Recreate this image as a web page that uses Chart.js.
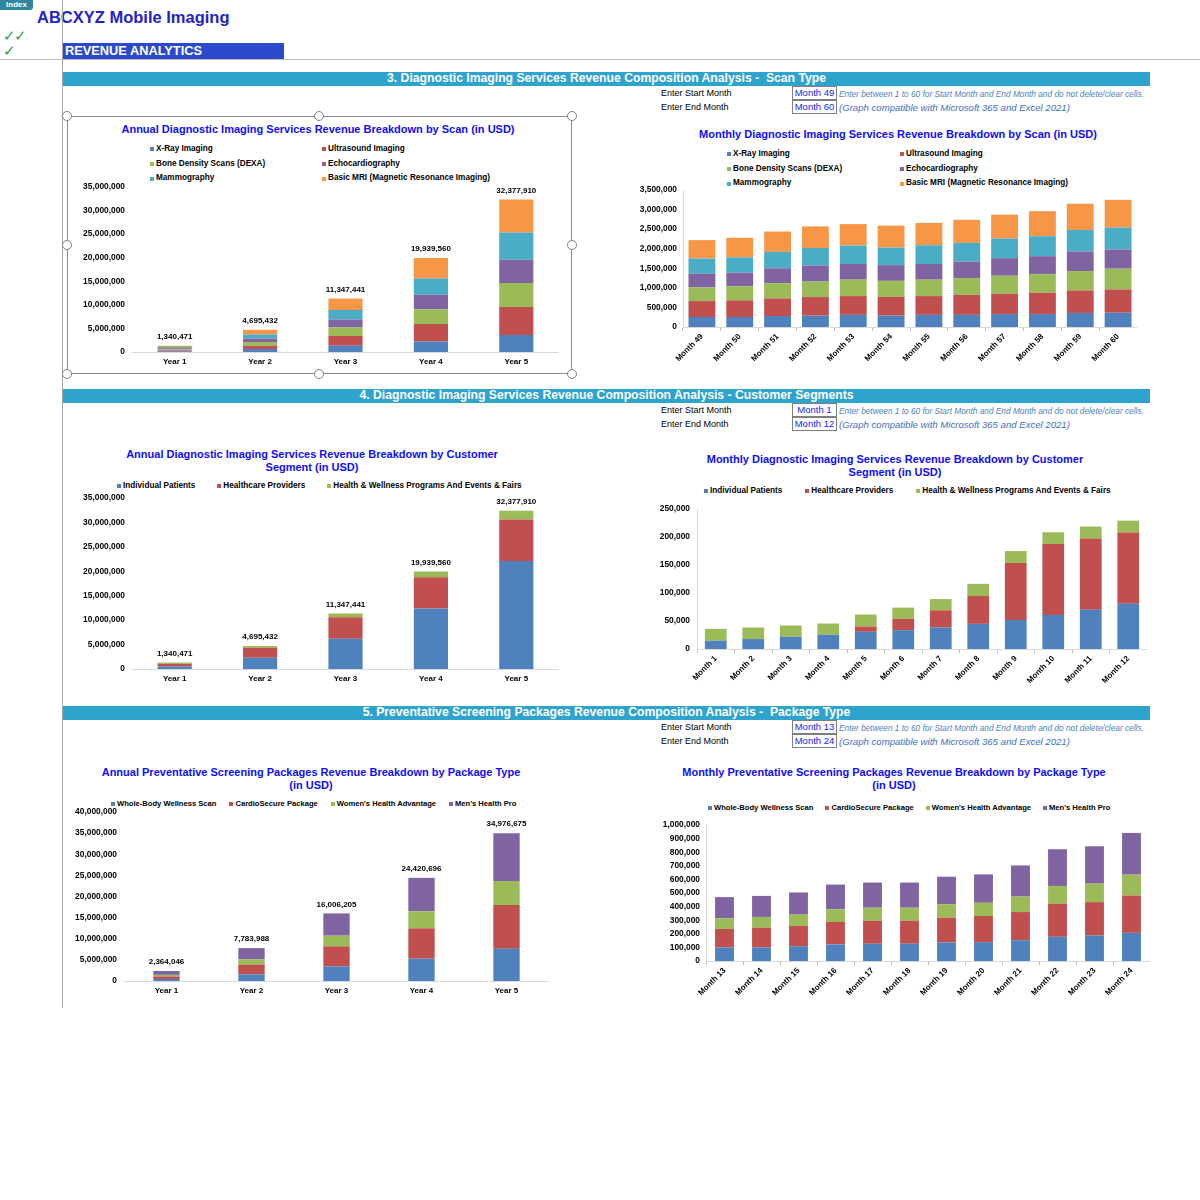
<!DOCTYPE html>
<html>
<head>
<meta charset="utf-8">
<script src="https://cdn.jsdelivr.net/npm/chart.js@4.4.1/dist/chart.umd.min.js"></script>
<style>
body{margin:0;width:1200px;height:1200px;background:#fff;position:relative;overflow:hidden;font-family:"Liberation Sans",Arial,sans-serif;color:#000}
.abs{position:absolute;white-space:nowrap}
.sec{position:absolute;left:63px;width:1087px;height:14px;background:#2EA3CE;color:#fff;font-weight:bold;font-size:12.2px;line-height:13px;text-align:center;white-space:nowrap}
.lbl{position:absolute;left:661px;font-size:9px}
.box{position:absolute;left:792px;width:43px;height:12px;border:1px solid #7f7f7f;color:#1a1aff;font-size:9.5px;line-height:12px;text-align:center;background:#fff}
.note{position:absolute;left:839px;color:#4f81bd;font-style:italic;white-space:nowrap}
.title{position:absolute;color:#0d0dff;font-weight:bold;font-size:11px;line-height:13px;text-align:center;white-space:nowrap;transform:translate(-50%,-50%)}
.leg{position:absolute;font-weight:bold;font-size:8.2px;line-height:14.7px}
.leg .it{display:flex;align-items:center;white-space:nowrap}
.leg .sq{width:4px;height:4px;margin-right:2px;flex:none}
canvas{position:absolute}
.h{position:absolute;width:8px;height:8px;border:1.3px solid #808080;border-radius:50%;background:#fff;transform:translate(-50%,-50%)}
</style>
</head>
<body>

<div class="abs" style="left:0;top:0;width:33px;height:10px;background:#31859C;color:#fff;font-weight:bold;font-size:8px;line-height:10px;text-align:center;border-bottom-right-radius:3px">Index</div>
<div class="abs" style="left:37px;top:8px;font-size:16.5px;font-weight:bold;color:#2323c4">ABCXYZ Mobile Imaging</div>
<div class="abs" style="left:3px;top:27px;font-size:15px;color:#2e9e4f;letter-spacing:-2px">✓✓</div>
<div class="abs" style="left:3px;top:42px;font-size:15px;color:#2e9e4f">✓</div>
<div class="abs" style="left:0;top:59px;width:1200px;height:1px;background:#bfbfbf"></div>
<div class="abs" style="left:62px;top:0;width:1px;height:1008px;background:#a6a6a6"></div>
<div class="abs" style="left:63px;top:43px;width:221px;height:16px;background:#2B4ACB;color:#fff;font-weight:bold;font-size:12.8px;line-height:16px;padding-left:2px;box-sizing:border-box">REVENUE ANALYTICS</div>

<div class="sec" style="top:72px">3. Diagnostic Imaging Services Revenue Composition Analysis -&nbsp; Scan Type</div>
<div class="sec" style="top:389px">4. Diagnostic Imaging Services Revenue Composition Analysis - Customer Segments</div>
<div class="sec" style="top:706px">5. Preventative Screening Packages Revenue Composition Analysis -&nbsp; Package Type</div>

<div class="lbl" style="top:88px">Enter Start Month</div>
<div class="lbl" style="top:102px">Enter End Month</div>
<div class="box" style="top:86px">Month 49</div>
<div class="box" style="top:100px">Month 60</div>
<div class="note" style="top:89px;font-size:8.3px">Enter between 1 to 60 for Start Month and End Month and do not delete/clear cells.</div>
<div class="note" style="top:102px;font-size:9.6px;color:#3a6fc4">(Graph compatible with Microsoft 365 and Excel 2021)</div>

<div class="lbl" style="top:405px">Enter Start Month</div>
<div class="lbl" style="top:419px">Enter End Month</div>
<div class="box" style="top:403px">Month 1</div>
<div class="box" style="top:417px">Month 12</div>
<div class="note" style="top:406px;font-size:8.3px">Enter between 1 to 60 for Start Month and End Month and do not delete/clear cells.</div>
<div class="note" style="top:419px;font-size:9.6px;color:#3a6fc4">(Graph compatible with Microsoft 365 and Excel 2021)</div>

<div class="lbl" style="top:722px">Enter Start Month</div>
<div class="lbl" style="top:736px">Enter End Month</div>
<div class="box" style="top:720px">Month 13</div>
<div class="box" style="top:734px">Month 24</div>
<div class="note" style="top:723px;font-size:8.3px">Enter between 1 to 60 for Start Month and End Month and do not delete/clear cells.</div>
<div class="note" style="top:736px;font-size:9.6px;color:#3a6fc4">(Graph compatible with Microsoft 365 and Excel 2021)</div>

<!-- selection frame round the first chart -->
<div class="abs" style="left:67px;top:116px;width:505px;height:258px;border:1.3px solid #8c8c8c;box-sizing:border-box"></div>
<div class="h" style="left:67px;top:116px"></div><div class="h" style="left:319px;top:116px"></div><div class="h" style="left:572px;top:116px"></div>
<div class="h" style="left:67px;top:245px"></div><div class="h" style="left:572px;top:245px"></div>
<div class="h" style="left:67px;top:374px"></div><div class="h" style="left:319px;top:374px"></div><div class="h" style="left:572px;top:374px"></div>

<div class="title" style="left:318px;top:129px">Annual Diagnostic Imaging Services Revenue Breakdown by Scan (in USD)</div>
<div class="title" style="left:898px;top:134px">Monthly Diagnostic Imaging Services Revenue Breakdown by Scan (in USD)</div>
<div class="title" style="left:312px;top:461px">Annual Diagnostic Imaging Services Revenue Breakdown by Customer<br>Segment (in USD)</div>
<div class="title" style="left:895px;top:466px">Monthly Diagnostic Imaging Services Revenue Breakdown by Customer<br>Segment (in USD)</div>
<div class="title" style="left:311px;top:779px">Annual Preventative Screening Packages Revenue Breakdown by Package Type<br>(in USD)</div>
<div class="title" style="left:894px;top:779px">Monthly Preventative Screening Packages Revenue Breakdown by Package Type<br>(in USD)</div>

<div id="leg1" class="leg" style="left:150px;top:142px;display:grid;grid-template-columns:172px auto"></div>
<div id="leg2" class="leg" style="left:727px;top:147px;display:grid;grid-template-columns:173px auto"></div>
<div id="leg3" class="leg" style="left:117px;top:479px;display:flex;gap:22px"></div>
<div id="leg4" class="leg" style="left:704px;top:484px;display:flex;gap:23px"></div>
<div id="leg5" class="leg" style="left:111px;top:797px;display:flex;gap:13px;font-size:7.6px"></div>
<div id="leg6" class="leg" style="left:708px;top:801px;display:flex;gap:12px;font-size:7.6px"></div>

<canvas id="c1" width="489" height="199" style="left:70px;top:175px"></canvas>
<canvas id="c2" width="516" height="198" style="left:621px;top:179px"></canvas>
<canvas id="c3" width="489" height="205" style="left:70px;top:486px"></canvas>
<canvas id="c4" width="512" height="202" style="left:635px;top:497px"></canvas>
<canvas id="c5" width="487" height="203" style="left:62px;top:800px"></canvas>
<canvas id="c6" width="506" height="197" style="left:644px;top:814px"></canvas>

<script>
// categories
const years = ['Year 1', 'Year 2', 'Year 3', 'Year 4', 'Year 5'];
const months49to60 = ['Month 49', 'Month 50', 'Month 51', 'Month 52', 'Month 53', 'Month 54', 'Month 55', 'Month 56', 'Month 57', 'Month 58', 'Month 59', 'Month 60'];
const months1to12 = ['Month 1', 'Month 2', 'Month 3', 'Month 4', 'Month 5', 'Month 6', 'Month 7', 'Month 8', 'Month 9', 'Month 10', 'Month 11', 'Month 12'];
const months13to24 = ['Month 13', 'Month 14', 'Month 15', 'Month 16', 'Month 17', 'Month 18', 'Month 19', 'Month 20', 'Month 21', 'Month 22', 'Month 23', 'Month 24'];

const scanNames = ['X-Ray Imaging', 'Ultrasound Imaging', 'Bone Density Scans (DEXA)', 'Echocardiography', 'Mammography', 'Basic MRI (Magnetic Resonance Imaging)'];
const segmentNames = ['Individual Patients', 'Healthcare Providers', 'Health & Wellness Programs And Events & Fairs'];
const packageNames = ['Whole-Body Wellness Scan', 'CardioSecure Package', "Women's Health Advantage", "Men's Health Pro"];

// annual by scan
const yearXray = [180000, 630000, 1330000, 2240000, 3600000];
const yearUltrasound = [200000, 700000, 2040000, 3720000, 5950000];
const yearDexa = [220000, 770000, 1820000, 3090000, 5100000];
const yearEcho = [220000, 780000, 1680000, 3080000, 4900000];
const yearMammo = [240000, 840000, 2040000, 3440000, 5800000];
const yearMri = [280471, 975432, 2437441, 4369560, 7027910];

// monthly by scan, months 49 - 60
const monXray = [255000, 255000, 280000, 290000, 310000, 290000, 310000, 310000, 330000, 330000, 360000, 365000];
const monUltrasound = [408000, 425000, 450000, 475000, 480000, 480000, 480000, 510000, 520000, 545000, 575000, 595000];
const monDexa = [347000, 360000, 390000, 395000, 420000, 410000, 420000, 430000, 460000, 475000, 495000, 530000];
const monEcho = [350000, 350000, 380000, 410000, 400000, 400000, 400000, 420000, 450000, 460000, 500000, 490000];
const monMammo = [390000, 390000, 420000, 450000, 470000, 450000, 480000, 480000, 500000, 510000, 550000, 560000];
const monMri = [470000, 500000, 520000, 550000, 550000, 560000, 570000, 590000, 610000, 640000, 670000, 710000];

// annual by customer segment
const yearIndividual = [492000, 2300000, 6170000, 12400000, 22100000];
const yearProviders = [594000, 2040000, 4410000, 6400000, 8500000];
const yearWellness = [254471, 355432, 767441, 1139560, 1777910];

// monthly by customer segment, months 1 - 12
const monIndividual = [14800, 17700, 21900, 25400, 30700, 33700, 38400, 44900, 52000, 60900, 70300, 81000];
const monProviders = [0, 0, 0, 0, 9500, 20100, 30700, 49700, 101700, 126500, 127100, 127000];
const monWellness = [21200, 20700, 20100, 20100, 21300, 20100, 20100, 21800, 21300, 21200, 21300, 21300];

// annual by package
const yearWholeBody = [470000, 1580000, 3470000, 5290000, 7650000];
const yearCardio = [600000, 2290000, 4730000, 7180000, 10340000];
const yearWomens = [380000, 1260000, 2530000, 4020000, 5680000];
const yearMens = [914046, 2653988, 5276205, 7930696, 11306675];

// monthly by package, months 13 - 24
const monWholeBody = [100000, 100000, 109000, 122000, 127000, 127000, 136000, 139000, 153000, 178000, 187000, 207000];
const monCardio = [136000, 146000, 149000, 165000, 170000, 170000, 183000, 192000, 207000, 243000, 246000, 275000];
const monWomens = [78000, 78000, 83000, 93000, 95000, 95000, 99000, 97000, 114000, 131000, 136000, 153000];
const monMens = [156000, 155000, 163000, 182000, 185000, 185000, 202000, 209000, 229000, 270000, 275000, 307000];

// excel default palette
const colors = ['#4F81BD', '#C0504D', '#9BBB59', '#8064A2', '#4BACC6', '#F79646'];
const FONT = '"Liberation Sans", Arial, sans-serif';

// writes the total above each stacked bar
const totalsPlugin = {
    id: 'totals',
    afterDatasetsDraw(chart) {
        const ctx = chart.ctx;
        const sets = chart.data.datasets;
        const top = chart.getDatasetMeta(sets.length - 1);
        ctx.save();
        ctx.font = 'bold 8px ' + FONT;
        ctx.fillStyle = '#000';
        ctx.textAlign = 'center';
        ctx.textBaseline = 'bottom';
        chart.data.labels.forEach((l, i) => {
            let sum = 0;
            sets.forEach(d => sum += d.data[i]);
            const y = chart.scales.y.getPixelForValue(sum);
            ctx.fillText(sum.toLocaleString('en-US'), top.data[i].x, y - 5);
        });
        ctx.restore();
    }
};

function stackChart(id, labels, names, series, opt) {
    const monthly = !!opt.monthly;
    return new Chart(document.getElementById(id), {
        type: 'bar',
        data: {
            labels: labels,
            datasets: series.map((d, i) => ({
                label: names[i],
                data: d,
                backgroundColor: colors[i],
                borderWidth: 0,
                barPercentage: opt.bar,
                categoryPercentage: 1
            }))
        },
        options: {
            responsive: false,
            animation: false,
            layout: { padding: { top: 5, left: 0, right: 0, bottom: 0 } },
            plugins: { legend: { display: false }, tooltip: { enabled: false } },
            scales: {
                x: {
                    stacked: true,
                    afterFit: s => { s.height = opt.xH; },
                    grid: monthly
                        ? { display: true, drawOnChartArea: false, drawTicks: true, tickLength: 4, color: '#bfbfbf' }
                        : { display: false, drawTicks: false },
                    border: { display: true, color: '#d9d9d9' },
                    ticks: {
                        color: '#000',
                        font: { family: FONT, size: 8, weight: 'bold' },
                        padding: monthly ? 1 : 5,
                        minRotation: monthly ? 45 : 0,
                        maxRotation: monthly ? 45 : 0,
                        autoSkip: false
                    }
                },
                y: {
                    stacked: true,
                    min: 0,
                    max: opt.max,
                    afterFit: s => { s.width = 62; },
                    grid: { display: false, drawTicks: false },
                    border: { display: monthly, color: '#d9d9d9' },
                    ticks: {
                        stepSize: opt.step,
                        padding: opt.pad,
                        color: '#000',
                        font: { family: FONT, size: 8.4, weight: 'bold' },
                        callback: v => v.toLocaleString('en-US')
                    }
                }
            }
        },
        plugins: opt.totals ? [totalsPlugin] : []
    });
}

// legend built from the chart's own datasets
function makeLegend(chart, elId) {
    const el = document.getElementById(elId);
    chart.data.datasets.forEach(d => {
        const it = document.createElement('div');
        it.className = 'it';
        it.innerHTML = '<span class="sq" style="background:' + d.backgroundColor + '"></span>';
        it.appendChild(document.createTextNode(d.label));
        el.appendChild(it);
    });
}

const c1 = stackChart('c1', years, scanNames,
    [yearXray, yearUltrasound, yearDexa, yearEcho, yearMammo, yearMri],
    { max: 35000000, step: 5000000, bar: 0.4, xH: 22, pad: 7, totals: true });
const c2 = stackChart('c2', months49to60, scanNames,
    [monXray, monUltrasound, monDexa, monEcho, monMammo, monMri],
    { max: 3500000, step: 500000, bar: 0.71, xH: 50, pad: 6, monthly: true });
const c3 = stackChart('c3', years, segmentNames,
    [yearIndividual, yearProviders, yearWellness],
    { max: 35000000, step: 5000000, bar: 0.4, xH: 22, pad: 7, totals: true });
const c4 = stackChart('c4', months1to12, segmentNames,
    [monIndividual, monProviders, monWellness],
    { max: 250000, step: 50000, bar: 0.58, xH: 50, pad: 7, monthly: true });
const c5 = stackChart('c5', years, packageNames,
    [yearWholeBody, yearCardio, yearWomens, yearMens],
    { max: 40000000, step: 5000000, bar: 0.31, xH: 22, pad: 7, totals: true });
const c6 = stackChart('c6', months13to24, packageNames,
    [monWholeBody, monCardio, monWomens, monMens],
    { max: 1000000, step: 100000, bar: 0.51, xH: 50, pad: 6, monthly: true });

makeLegend(c1, 'leg1');
makeLegend(c2, 'leg2');
makeLegend(c3, 'leg3');
makeLegend(c4, 'leg4');
makeLegend(c5, 'leg5');
makeLegend(c6, 'leg6');
</script>
</body>
</html>
